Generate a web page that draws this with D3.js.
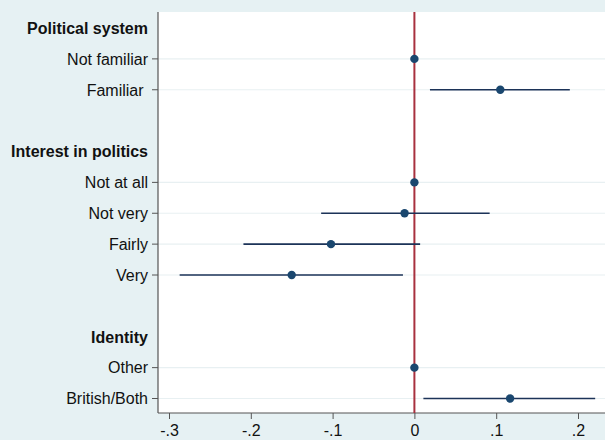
<!DOCTYPE html>
<html>
<head>
<meta charset="utf-8">
<script src="https://cdn.jsdelivr.net/npm/d3@7"></script>
<style>
  body { margin: 0; background: #e6f1f3; }
  svg { display: block; font-family: "Liberation Sans", Arial, sans-serif; }
</style>
</head>
<body>
<svg id="chart"></svg>
<script>
// Rows from top to bottom (headers are bold, blanks are spacers)
const rowLabels = ["Political system", "Not familiar", "Familiar ", "",
  "Interest in politics", "Not at all", "Not very", "Fairly", "Very", "",
  "Identity", "Other", "British/Both"];
const headerRows = ["Political system", "Interest in politics", "Identity"];

// Coefficient estimates with 95% CI (null = reference category, no CI)
const estLabels = ["Not familiar", "Familiar ", "Not at all", "Not very", "Fairly", "Very", "Other", "British/Both"];
const estimates = [0, 0.105, 0, -0.012, -0.102, -0.150, 0, 0.117];
const ciLow = [null, 0.019, null, -0.114, -0.209, -0.287, null, 0.011];
const ciHigh = [null, 0.190, null, 0.092, 0.007, -0.014, null, 0.221];

const xTicks = [-0.3, -0.2, -0.1, 0, 0.1, 0.2];
const xTickLabels = ["-.3", "-.2", "-.1", "0", ".1", ".2"];

const width = 605;
const height = 440;
const margin = { top: 12, right: 0, bottom: 27, left: 158 };

const svg = d3.select("#chart").attr("width", width).attr("height", height);

// Plot area background
svg.append("rect")
  .attr("x", margin.left)
  .attr("y", margin.top)
  .attr("width", width - margin.left - margin.right)
  .attr("height", height - margin.top - margin.bottom)
  .attr("fill", "#ffffff");

const x = d3.scaleLinear()
  .domain([-0.3, 0.2])
  .range([169, 578]);

const y = d3.scalePoint()
  .domain(rowLabels.map((d, i) => i))
  .range([28, 398.5]);

const catRows = rowLabels
  .map((d, i) => ({ label: d, i }))
  .filter((d) => d.label !== "" && !headerRows.includes(d.label));

// Gridlines at each category row
svg.selectAll("line.grid")
  .data(catRows)
  .enter()
  .append("line")
  .attr("class", "grid")
  .attr("x1", margin.left)
  .attr("x2", width)
  .attr("y1", (d) => y(d.i))
  .attr("y2", (d) => y(d.i))
  .attr("stroke", "#e8f0f2")
  .attr("stroke-width", 1.2);

// Left axis: ticks only at category rows
const leftAxis = svg.append("g");
leftAxis.append("line")
  .attr("x1", margin.left).attr("x2", margin.left)
  .attr("y1", margin.top).attr("y2", height - margin.bottom)
  .attr("stroke", "#555").attr("stroke-width", 1.2);

leftAxis.selectAll("line.tick")
  .data(catRows)
  .enter()
  .append("line")
  .attr("class", "tick")
  .attr("x1", margin.left - 6)
  .attr("x2", margin.left)
  .attr("y1", (d) => y(d.i))
  .attr("y2", (d) => y(d.i))
  .attr("stroke", "#555");

leftAxis.selectAll("text")
  .data(rowLabels.map((d, i) => ({ label: d, i })).filter((d) => d.label !== ""))
  .enter()
  .append("text")
  .attr("x", margin.left - 10)
  .attr("y", (d) => y(d.i))
  .attr("dy", "0.36em")
  .attr("text-anchor", "end")
  .attr("font-size", 16)
  .attr("font-weight", (d) => (headerRows.includes(d.label) ? "bold" : "normal"))
  .attr("fill", "#111")
  .style("white-space", "pre")
  .text((d) => d.label);

// Bottom axis
const xAxis = d3.axisBottom(x)
  .tickValues(xTicks)
  .tickFormat((d, i) => xTickLabels[i])
  .tickSize(6)
  .tickSizeOuter(0);

const gx = svg.append("g")
  .attr("transform", `translate(0,${height - margin.bottom})`)
  .call(xAxis);
gx.select(".domain").remove();
gx.append("line")
  .attr("x1", margin.left).attr("x2", width)
  .attr("stroke", "#555").attr("stroke-width", 1.2);
gx.selectAll(".tick line").attr("stroke", "#555");
gx.selectAll(".tick text")
  .attr("font-size", 16)
  .attr("font-family", "Liberation Sans, Arial, sans-serif")
  .attr("fill", "#111")
  .attr("dy", "0.85em");

// Zero reference line
svg.append("line")
  .attr("x1", x(0)).attr("x2", x(0))
  .attr("y1", margin.top).attr("y2", height - margin.bottom)
  .attr("stroke", "#a8313f")
  .attr("stroke-width", 2);

// Estimates
const est = estLabels.map((label, k) => ({
  label,
  i: rowLabels.indexOf(label),
  b: estimates[k],
  lo: ciLow[k],
  hi: ciHigh[k],
}));

svg.selectAll("line.ci")
  .data(est.filter((d) => d.lo !== null))
  .enter()
  .append("line")
  .attr("class", "ci")
  .attr("x1", (d) => x(d.lo))
  .attr("x2", (d) => x(d.hi))
  .attr("y1", (d) => y(d.i))
  .attr("y2", (d) => y(d.i))
  .attr("stroke", "#1c3358")
  .attr("stroke-width", 1.6);

svg.selectAll("circle")
  .data(est)
  .enter()
  .append("circle")
  .attr("cx", (d) => x(d.b))
  .attr("cy", (d) => y(d.i))
  .attr("r", 4.2)
  .attr("fill", "#1a476f");
</script>
</body>
</html>
